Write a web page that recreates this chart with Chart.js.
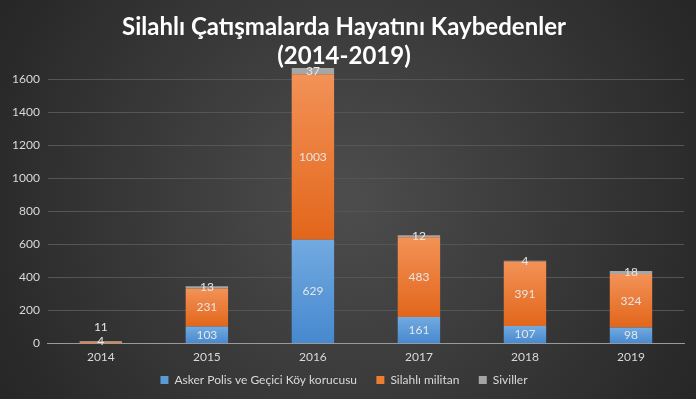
<!DOCTYPE html>
<html lang="tr">
<head>
    <meta charset="UTF-8">
    <title>Silahlı Çatışmalarda Hayatını Kaybedenler</title>
    <script src="https://cdn.jsdelivr.net/npm/chart.js@4.4.0/dist/chart.umd.min.js"></script>
    <style>
        html, body { margin: 0; padding: 0; background: #2a2a2a; }
        #wrap { width: 696px; height: 399px; position: relative; }
    </style>
</head>
<body>
    <div id="wrap"><canvas id="myChart"></canvas></div>
    <script>
        const years = ['2014', '2015', '2016', '2017', '2018', '2019'];
        const guvenlik = [0, 103, 629, 161, 107, 98];
        const militan = [11, 231, 1003, 483, 391, 324];
        const siviller = [4, 13, 37, 12, 4, 18];
        const yTicks = [0, 200, 400, 600, 800, 1000, 1200, 1400, 1600];

        const FONT = 'Lato, "Noto Sans", sans-serif';
        const stacks = [guvenlik, militan, siviller];

        // vertical gradient for each bar segment
        function segGradient(colTop, colBottom) {
            return function (ctx) {
                const chart = ctx.chart;
                if (!chart.chartArea || ctx.type !== 'data') return colBottom;
                const y = chart.scales.y;
                let base = 0;
                for (let d = 0; d < ctx.datasetIndex; d++) base += stacks[d][ctx.dataIndex];
                const top = base + stacks[ctx.datasetIndex][ctx.dataIndex];
                const y0 = y.getPixelForValue(top);
                const y1 = y.getPixelForValue(base);
                if (!isFinite(y0) || !isFinite(y1) || Math.abs(y1 - y0) < 1) return colBottom;
                const g = chart.ctx.createLinearGradient(0, y0, 0, y1);
                g.addColorStop(0, colTop);
                g.addColorStop(1, colBottom);
                return g;
            };
        }

        const bgPlugin = {
            id: 'bg',
            beforeDraw(chart) {
                const c = chart.ctx;
                const w = chart.width, h = chart.height;
                const g = c.createRadialGradient(w / 2, h / 2, 0, w / 2, h / 2, w * 0.62);
                g.addColorStop(0, '#4d4d4d');
                g.addColorStop(1, '#232323');
                c.save();
                c.fillStyle = g;
                c.fillRect(0, 0, w, h);
                c.restore();
            }
        };

        const labelPlugin = {
            id: 'segLabels',
            afterDatasetsDraw(chart) {
                const c = chart.ctx;
                c.save();
                c.font = '12px ' + FONT;
                c.fillStyle = '#e6e6e6';
                c.textAlign = 'center';
                c.textBaseline = 'middle';
                years.forEach((yr, i) => {
                    let stackTop = null;
                    let small = 0;
                    chart.data.datasets.forEach((ds, d) => {
                        const el = chart.getDatasetMeta(d).data[i];
                        if (stackTop === null || el.y < stackTop) stackTop = el.y;
                        if (ds.data[i] && Math.abs(el.base - el.y) < 2.5) small++;
                    });
                    let movedUp = false;
                    chart.data.datasets.forEach((ds, d) => {
                        const v = ds.data[i];
                        if (!v) return;
                        const el = chart.getDatasetMeta(d).data[i];
                        let ty = (el.y + el.base) / 2;
                        // two tiny segments in one bar: lift the first label above the bar
                        if (small > 1 && !movedUp) {
                            ty = stackTop - 14;
                            movedUp = true;
                        }
                        c.fillText(String(v), el.x, ty);
                    });
                });
                c.restore();
            }
        };

        const ctx = document.getElementById('myChart').getContext('2d');
        new Chart(ctx, {
            type: 'bar',
            data: {
                labels: years,
                datasets: [{
                    label: 'Asker Polis ve Geçici Köy korucusu',
                    data: guvenlik,
                    backgroundColor: segGradient('#72aae0', '#4688cf'),
                    borderWidth: 0
                }, {
                    label: 'Silahlı militan',
                    data: militan,
                    backgroundColor: segGradient('#f39257', '#e2661b'),
                    borderWidth: 0
                }, {
                    label: 'Siviller',
                    data: siviller,
                    backgroundColor: '#a6a6a6',
                    borderWidth: 0
                }]
            },
            options: {
                responsive: true,
                maintainAspectRatio: false,
                animation: false,
                layout: { padding: { left: 4, right: 12, top: 0, bottom: 3 } },
                datasets: { bar: { categoryPercentage: 1, barPercentage: 0.4 } },
                plugins: {
                    title: {
                        display: true,
                        text: ['Silahlı Çatışmalarda Hayatını Kaybedenler', '(2014-2019)'],
                        color: '#ffffff',
                        font: { family: FONT, size: 24, weight: 'bold', lineHeight: 1.2 },
                        padding: { top: 13, bottom: -6 }
                    },
                    legend: {
                        position: 'bottom',
                        labels: {
                            color: '#d9d9d9',
                            font: { family: FONT, size: 12 },
                            boxWidth: 8,
                            boxHeight: 8,
                            padding: 4,
                            generateLabels(chart) {
                                const cols = ['#5b9bd5', '#ed7d31', '#a5a5a5'];
                                const n = chart.data.datasets.length;
                                return chart.data.datasets.map((ds, i) => ({
                                    text: i < n - 1 ? ds.label + '     ' : ds.label,
                                    fillStyle: cols[i],
                                    strokeStyle: cols[i],
                                    lineWidth: 0,
                                    fontColor: '#d9d9d9',
                                    datasetIndex: i
                                }));
                            }
                        }
                    },
                    tooltip: { enabled: false }
                },
                scales: {
                    x: {
                        stacked: true,
                        grid: { display: false, drawTicks: false },
                        border: { color: '#9a9a9a', width: 1 },
                        ticks: { color: '#d9d9d9', font: { family: FONT, size: 12 }, padding: 6 }
                    },
                    y: {
                        stacked: true,
                        min: 0,
                        max: 1690,
                        afterBuildTicks(axis) {
                            axis.ticks = yTicks.map(v => ({ value: v }));
                        },
                        grid: {
                            color: c => c.tick && c.tick.value === 0 ? '#9a9a9a' : '#555555',
                            drawTicks: false
                        },
                        border: { display: false },
                        ticks: {
                            color: '#d9d9d9',
                            font: { family: FONT, size: 12 },
                            padding: 8,
                            callback: v => String(v)
                        }
                    }
                }
            },
            plugins: [bgPlugin, labelPlugin]
        });
    </script>
</body>
</html>
